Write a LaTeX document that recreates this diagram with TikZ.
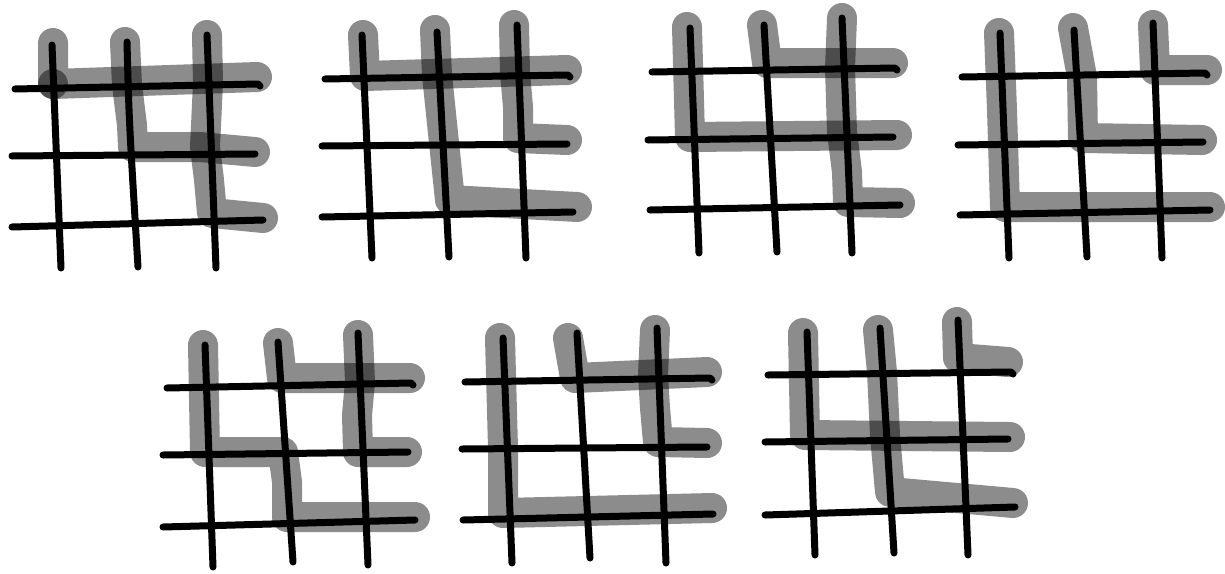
\documentclass[tikz,border=0pt]{standalone}
\begin{document}
\begin{tikzpicture}[x=1pt,y=-1pt,
  wire/.style={line width=7pt,line cap=round,line join=round,draw=black},
  hl/.style={line width=30pt,line cap=round,line join=round,draw=black,draw opacity=0.45},
  spot/.style={fill=black,fill opacity=0.45}]
\useasboundingbox (0,0) rectangle (1225,573);
\fill[white] (0,0) rectangle (1225,573);

% ---------- grid 1 ----------
\draw[hl] (53,43) -- (53,84) -- (257,77);
\draw[hl] (125,42) -- (127,85) -- (132,125) -- (133,147) -- (200,147) -- (255,152);
\draw[hl] (207,35) -- (208,83) -- (205,147) -- (209,180) -- (212,213) -- (263,218);
\fill[spot] (53,84) circle (15);
\draw[wire] (52,45) -- (61,268);
\draw[wire] (127,42) .. controls (129,120) .. (138,267);
\draw[wire] (207,35) -- (216,268);
\draw[wire] (15,89) -- (258,84) -- (260,86);
\draw[wire] (12,156) -- (255,154);
\draw[wire] (12,227) -- (263,220);

% ---------- grid 2 ----------
\draw[hl] (363,35) -- (365,76) -- (567,70);
\draw[hl] (435,30) -- (437,75) -- (443,133) -- (450,200) -- (577,207);
\draw[hl] (514,25) -- (515,73) -- (518,107) -- (518,138) -- (567,140);
\draw[wire] (362,35) -- (372,258);
\draw[wire] (437,32) -- (449,257);
\draw[wire] (517,25) -- (526,258);
\draw[wire] (325,79) -- (568,75) -- (570,77);
\draw[wire] (322,146) -- (567,144);
\draw[wire] (322,217) -- (573,212);

% ---------- grid 3 ----------
\draw[hl] (687,27) -- (690,137) -- (897,135);
\draw[hl] (762,25) -- (767,63) -- (893,63);
\draw[hl] (842,18) -- (840,68) -- (842,132) -- (847,172) -- (848,202) -- (900,203);
\draw[wire] (690,28) -- (699,253);
\draw[wire] (764,25) -- (777,252);
\draw[wire] (842,18) -- (852,253);
\draw[wire] (652,72) -- (895,68) -- (897,70);
\draw[wire] (648,140) -- (893,137);
\draw[wire] (650,210) -- (900,205);

% ---------- grid 4 ----------
\draw[hl] (999,33) -- (1002,110) -- (1005,207) -- (1210,207);
\draw[hl] (1073,28) -- (1082,77) -- (1083,138) -- (1202,140);
\draw[hl] (1153,25) -- (1155,70) -- (1207,70);
\draw[wire] (1000,33) -- (1009,258);
\draw[wire] (1074,30) -- (1087,257);
\draw[wire] (1153,23) -- (1162,258);
\draw[wire] (962,77) -- (1205,73) -- (1207,75);
\draw[wire] (958,145) -- (1203,142);
\draw[wire] (960,215) -- (1210,210);

% ---------- grid 5 ----------
\draw[hl] (203,345) -- (205,452) -- (283,452) -- (287,482) -- (287,517) -- (415,517);
\draw[hl] (278,343) -- (282,378) -- (410,378);
\draw[hl] (358,335) -- (360,382) -- (357,415) -- (358,452) -- (407,452);
\draw[wire] (205,345) -- (213,567);
\draw[wire] (278,342) -- (293,562);
\draw[wire] (358,333) -- (368,565);
\draw[wire] (167,388) -- (411,383) -- (413,385);
\draw[wire] (163,455) -- (408,452);
\draw[wire] (163,527) -- (415,520);

% ---------- grid 6 ----------
\draw[hl] (500,338) -- (503,448) -- (503,513) -- (712,508);
\draw[hl] (568,338) -- (575,378) -- (707,372);
\draw[hl] (655,330) -- (653,375) -- (655,408) -- (658,442) -- (707,443);
\draw[wire] (503,338) -- (512,563);
\draw[wire] (577,333) -- (590,558);
\draw[wire] (657,328) -- (666,563);
\draw[wire] (465,382) -- (710,378) -- (712,380);
\draw[wire] (462,449) -- (707,447);
\draw[wire] (463,520) -- (713,514);

% ---------- grid 7 ----------
\draw[hl] (803,333) -- (805,435) -- (1010,437);
\draw[hl] (878,330) -- (882,372) -- (885,435) -- (890,492) -- (1013,503);
\draw[hl] (957,322) -- (958,358) -- (1008,362);
\draw[wire] (807,332) -- (815,555);
\draw[wire] (880,328) -- (894,553);
\draw[wire] (958,320) -- (968,555);
\draw[wire] (768,375) -- (1011,372) -- (1013,374);
\draw[wire] (765,442) -- (1008,439);
\draw[wire] (765,515) -- (1015,507);
\end{tikzpicture}
\end{document}
